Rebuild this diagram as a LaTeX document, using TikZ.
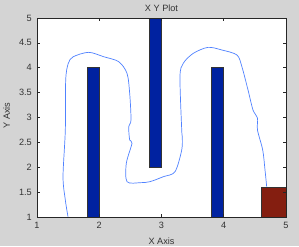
\documentclass[tikz,border=0pt]{standalone}
\usepackage{fontspec}
\setmainfont{Liberation Sans}
\usepackage{xcolor}
\usetikzlibrary{positioning}

\definecolor{figgray}{RGB}{212,212,212}
\definecolor{barblue}{RGB}{0,34,160}
\definecolor{goalred}{RGB}{132,30,16}
\definecolor{pathblue}{RGB}{80,130,255}

\begin{document}
\begin{tikzpicture}[
    x=1.8675cm, y=1.4925cm,
    lbl/.style={font=\fontsize{7.8}{9}\selectfont, text=black!80, inner sep=0pt},
    wall/.style={draw=black!80, fill=barblue, line width=0.5pt},
    goal/.style={draw=black!80, fill=goalred, line width=0.5pt},
    route/.style={draw=pathblue, line width=0.6pt},
    frame/.style={draw=black!85, line width=0.5pt}
]

    % figure background and bounding box
    \fill[figgray] (0.4056,0.417) rectangle (5.209,5.362);
    \useasboundingbox (0.4056,0.417) rectangle (5.209,5.362);
    \fill[white] (1,1) rectangle (5,5);

    % obstacles and target
    \draw[wall] (1.8,1) rectangle (2,4);
    \draw[wall] (2.8,2) rectangle (3,5);
    \draw[wall] (3.8,1) rectangle (4,4);
    \draw[goal] (4.6,1) rectangle (5,1.6);

    % path
    \draw[route] plot[smooth, tension=0.5] coordinates {
        (1.498,1.006) (1.455,1.342) (1.418,1.81) (1.455,2.749) (1.461,3.754)
        (1.503,4.09) (1.583,4.222) (1.83,4.31) (2.071,4.222) (2.312,4.122)
        (2.446,3.888) (2.489,3.486) (2.51,2.95) (2.473,2.815) (2.489,2.548)
        (2.526,2.481) (2.435,2.08) (2.446,1.71) (2.659,1.69) (2.815,1.71)
        (3.029,1.81) (3.217,1.91) (3.325,2.347) (3.334,2.614) (3.325,2.749)
        (3.297,3.82) (3.35,4.09) (3.511,4.29) (3.747,4.41) (3.97,4.357)
        (4.213,4.256) (4.293,4.015) (4.39,3.553) (4.47,3.151) (4.542,2.99)
        (4.542,2.749) (4.626,2.347) (4.663,1.945) (4.69,1.609)};

    % axes box and ticks
    \draw[frame] (1,1) rectangle (5,5);
    \foreach \t in {1,2,3,4,5} {
        \draw[frame] (\t,1) -- ++(0,0.06);
        \draw[frame] (\t,5) -- ++(0,-0.06);
        \node[lbl, anchor=center] (xt\t) at (\t,0.839) {\t};
    }
    \foreach \t in {1,1.5,2,2.5,3,3.5,4,4.5,5} {
        \draw[frame] (1,\t) -- ++(0.048,0);
        \draw[frame] (5,\t) -- ++(-0.048,0);
        \node[lbl, anchor=east] (yt\t) at (0.92,\t) {\t};
    }

    % labels
    \node[lbl] (title) at (3,5.195) {X Y Plot};
    \node[lbl] (xlabel) at (3,0.518) {X Axis};
    \node[lbl, rotate=90] (ylabel) at (0.513,3.04) {Y Axis};

\end{tikzpicture}
\end{document}
